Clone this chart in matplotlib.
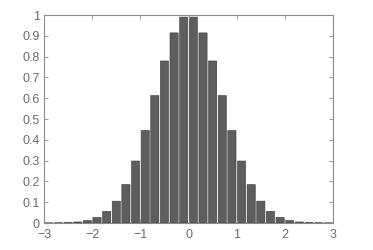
import matplotlib
matplotlib.use("Agg")
import matplotlib.pyplot as plt

centers = [-2.9, -2.7, -2.5, -2.3, -2.1, -1.9, -1.7, -1.5, -1.3, -1.1, -0.9, -0.7, -0.5, -0.3, -0.1,
           0.1, 0.3, 0.5, 0.7, 0.9, 1.1, 1.3, 1.5, 1.7, 1.9, 2.1, 2.3, 2.5, 2.7, 2.9]
heights = [0.0002, 0.0007, 0.002, 0.005, 0.012, 0.027, 0.056, 0.105, 0.185, 0.298, 0.445, 0.613, 0.779, 0.914, 0.99,
           0.99, 0.914, 0.779, 0.613, 0.445, 0.298, 0.185, 0.105, 0.056, 0.027, 0.012, 0.005, 0.002, 0.0007, 0.0002]
xticks = [-3, -2, -1, 0, 1, 2, 3]
yticks = [0, 0.1, 0.2, 0.3, 0.4, 0.5, 0.6, 0.7, 0.8, 0.9, 1]
ytick_labels = ["0", "0.1", "0.2", "0.3", "0.4", "0.5", "0.6", "0.7", "0.8", "0.9", "1"]

plt.rcParams['font.family'] = ['Liberation Sans', 'DejaVu Sans']
fig = plt.figure(figsize=(3.73, 2.5), dpi=100)
ax = fig.add_axes([0.118, 0.108, 0.775, 0.832])
bars = ax.bar(centers, heights, width=0.17, color='#5e5e5e', edgecolor='#3c3c3c', linewidth=0.4)
for b in bars:
    b.set_snap(False)
ax.set_xlim(-3, 3)
ax.set_ylim(0, 1)
ax.set_xticks(xticks)
ax.set_xticklabels([str(t).replace('-', '\u2212') for t in xticks])
ax.set_yticks(yticks)
ax.set_yticklabels(ytick_labels)
for s in ax.spines.values():
    s.set_color('#8a8a8a')
    s.set_linewidth(0.8)
    s.set_zorder(3)
ax.tick_params(direction='in', top=True, right=True, length=3, width=0.6, color='#8a8a8a',
               labelsize=9, labelcolor='#6a6a6a', pad=3)
ax.tick_params(axis='x', pad=4.5)
fig.savefig('out.png', dpi=100)
